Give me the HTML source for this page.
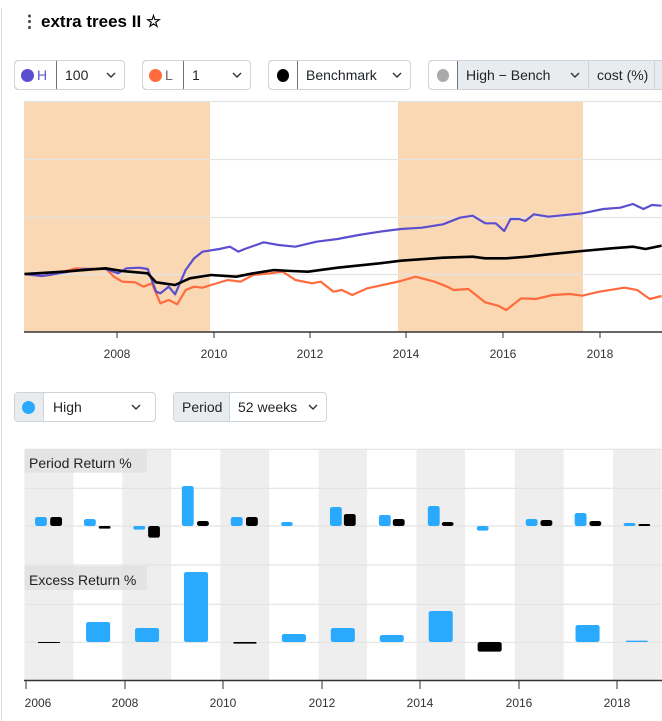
<!DOCTYPE html>
<html><head><meta charset="utf-8"><style>
*{box-sizing:border-box}
body{margin:0;width:662px;height:721px;overflow:hidden;background:#fff;font-family:"Liberation Sans",sans-serif;color:#212529;position:relative}
.a{position:absolute}
.box{position:absolute;height:30px;border:1px solid #ced4da;border-radius:4px;background:#fff;font-size:14px;display:flex;align-items:center;overflow:hidden}
.seg{height:100%;display:flex;align-items:center;padding:0 8px;white-space:nowrap}
.dot{width:13px;height:13px;border-radius:50%;display:inline-block}
.chev{display:inline-block;width:10px;height:6px}
</style></head><body>
<div class="a" style="left:1px;top:8px;width:1px;height:713px;background:#ddd"></div>
<div class="a" style="left:21px;top:12px;font-size:17px;font-weight:bold;color:#333">⋮</div>
<div class="a" style="left:41px;top:12px;font-size:17px;font-weight:bold;color:#000">extra trees II ☆</div>

<div class="box" style="left:14px;top:60px;width:111px">
 <div class="seg" style="width:43px;border:1px solid #6c757d;border-radius:4px 0 0 4px;margin:-1px 0 -1px -1px;height:30px;padding:0 6px;color:#5a5ad0"><span class="dot" style="background:#5b4fcf;margin-right:3px"></span>H</div>
 <div class="seg" style="flex:1;justify-content:space-between">100<svg class="chev" viewBox="0 0 10 6"><polyline points="1,1 5,5 9,1" fill="none" stroke="#333" stroke-width="1.4"/></svg></div>
</div>
<div class="box" style="left:142px;top:60px;width:109px">
 <div class="seg" style="width:42px;border:1px solid #6c757d;border-radius:4px 0 0 4px;margin:-1px 0 -1px -1px;height:30px;padding:0 6px;color:#666"><span class="dot" style="background:#ff6b3d;margin-right:3px"></span>L</div>
 <div class="seg" style="flex:1;justify-content:space-between">1<svg class="chev" viewBox="0 0 10 6"><polyline points="1,1 5,5 9,1" fill="none" stroke="#333" stroke-width="1.4"/></svg></div>
</div>
<div class="box" style="left:268px;top:60px;width:143px">
 <div class="seg" style="width:30px;border:1px solid #6c757d;border-radius:4px 0 0 4px;margin:-1px 0 -1px -1px;height:30px;padding:0 8px"><span class="dot" style="background:#000"></span></div>
 <div class="seg" style="flex:1;justify-content:space-between">Benchmark<svg class="chev" viewBox="0 0 10 6"><polyline points="1,1 5,5 9,1" fill="none" stroke="#333" stroke-width="1.4"/></svg></div>
</div>
<div class="box" style="left:428px;top:60px;width:250px;background:#e9ecef">
 <div class="seg" style="width:30px;background:#fff;border:1px solid #6c757d;border-radius:4px 0 0 4px;margin:-1px 0 -1px -1px;height:30px;padding:0 8px"><span class="dot" style="background:#aaa"></span></div>
 <div class="seg" style="width:130px;justify-content:space-between;padding:0 8px">High − Bench<svg class="chev" viewBox="0 0 10 6"><polyline points="1,1 5,5 9,1" fill="none" stroke="#333" stroke-width="1.4"/></svg></div>
 <div class="seg" style="width:66px;border-left:1px solid #ced4da">cost (%)</div>
 <div class="seg" style="border-left:1px solid #ced4da"></div>
</div>

<svg class="a" style="left:0;top:0" width="662" height="380">
 <rect x="24" y="101" width="186" height="231" fill="#fad8b4"/>
 <rect x="398" y="101" width="185" height="231" fill="#fad8b4"/>
 <g stroke="#e3e3e3" stroke-width="1.2">
  <line x1="24" x2="662" y1="101.5" y2="101.5"/><line x1="24" x2="662" y1="159.5" y2="159.5"/>
  <line x1="24" x2="662" y1="217.5" y2="217.5"/><line x1="24" x2="662" y1="274.5" y2="274.5"/>
 </g>
 <g transform="translate(0,95) scale(0.42194,0.33333)" fill="none" stroke-width="2.2" stroke-linejoin="round">
  <polyline vector-effect="non-scaling-stroke" stroke="#ff6b3d" points="58,537 90,542 120,540 150,530 180,520 210,522 250,520 270,545 290,560 320,562 340,575 360,565 380,625 400,615 420,628 440,585 460,575 480,578 500,570 540,555 570,560 600,540 640,535 670,530 700,555 740,565 760,560 790,590 810,585 835,600 870,580 900,572 950,558 985,545 1030,560 1060,575 1075,585 1110,582 1150,622 1180,632 1200,645 1215,630 1235,610 1270,612 1310,600 1350,597 1380,602 1420,590 1480,578 1510,585 1540,612 1568,603"/>
  <polyline vector-effect="non-scaling-stroke" stroke="#5b4fcf" points="58,537 100,543 140,535 200,522 250,522 280,535 300,520 330,518 350,522 370,590 380,595 400,575 415,598 440,525 460,490 480,470 520,462 545,455 565,470 580,462 625,442 660,450 700,455 750,440 800,432 850,420 900,410 950,402 1000,398 1050,388 1090,368 1120,362 1150,385 1175,385 1195,408 1210,372 1230,372 1245,378 1265,358 1300,365 1380,355 1430,342 1470,338 1500,327 1525,342 1545,330 1568,332"/>
  <polyline vector-effect="non-scaling-stroke" stroke="#000" stroke-width="2.6" points="58,537 150,530 250,520 290,528 350,535 370,562 415,570 450,550 500,540 560,545 600,535 650,525 690,528 730,530 800,518 900,505 950,497 1050,488 1120,485 1150,490 1200,490 1250,485 1300,478 1380,468 1450,460 1500,455 1530,462 1568,452"/>
 </g>
 <line x1="24" x2="662" y1="332" y2="332" stroke="#333" stroke-width="1.5"/>
 <g stroke="#333"><line x1="117" x2="117" y1="332" y2="338"/><line x1="214" x2="214" y1="332" y2="338"/><line x1="310" x2="310" y1="332" y2="338"/><line x1="406" x2="406" y1="332" y2="338"/><line x1="503" x2="503" y1="332" y2="338"/><line x1="600" x2="600" y1="332" y2="338"/></g>
 <g font-size="12" fill="#333" text-anchor="middle"><text x="117" y="358">2008</text><text x="214" y="358">2010</text><text x="310" y="358">2012</text><text x="406" y="358">2014</text><text x="503" y="358">2016</text><text x="600" y="358">2018</text></g>
</svg>

<div class="box" style="left:14px;top:392px;width:142px">
 <div class="seg" style="width:29px;background:#e9ecef;border-right:1px solid #ced4da;padding:0 7px"><span class="dot" style="background:#2aaaff"></span></div>
 <div class="seg" style="flex:1;justify-content:space-between;padding:0 14px 0 9px">High<svg class="chev" viewBox="0 0 10 6"><polyline points="1,1 5,5 9,1" fill="none" stroke="#333" stroke-width="1.4"/></svg></div>
</div>
<div class="box" style="left:173px;top:392px;width:154px">
 <div class="seg" style="width:56px;background:#e9ecef;border-right:1px solid #ced4da">Period</div>
 <div class="seg" style="flex:1;justify-content:space-between">52 weeks<svg class="chev" viewBox="0 0 10 6"><polyline points="1,1 5,5 9,1" fill="none" stroke="#333" stroke-width="1.4"/></svg></div>
</div>

<svg class="a" style="left:0;top:380px" width="662" height="341">
 <g transform="scale(0.42194,0.33333)">
  <g fill="#eeeeee">
   <rect x="58" y="208" width="116" height="692"/><rect x="290" y="208" width="116" height="692"/><rect x="522" y="208" width="116" height="692"/><rect x="755" y="208" width="115" height="692"/><rect x="987" y="208" width="115" height="692"/><rect x="1220" y="208" width="116" height="692"/><rect x="1453" y="208" width="115" height="692"/>
  </g>
  <g stroke="#e3e3e3" stroke-width="3.5">
   <line x1="58" x2="1568" y1="208" y2="208"/><line x1="58" x2="1568" y1="325" y2="325"/><line x1="58" x2="1568" y1="438" y2="438"/><line x1="58" x2="1568" y1="555" y2="555"/><line x1="58" x2="1568" y1="673" y2="673"/><line x1="58" x2="1568" y1="787" y2="787"/>
  </g>
  <rect x="58" y="208" width="290" height="70" fill="#e0e0e0" opacity="0.85"/>
  <rect x="58" y="558" width="290" height="72" fill="#e0e0e0" opacity="0.85"/>
  <g fill="#2aaaff">
   <rect x="83" y="411" width="28" height="27" rx="6"/><rect x="199" y="417" width="28" height="21" rx="6"/><rect x="316" y="438" width="28" height="11" rx="5"/><rect x="431" y="318" width="28" height="120" rx="6"/><rect x="547" y="411" width="28" height="27" rx="6"/><rect x="666" y="426" width="28" height="12" rx="6"/><rect x="782" y="381" width="28" height="57" rx="6"/><rect x="898" y="405" width="28" height="33" rx="6"/><rect x="1014" y="378" width="28" height="60" rx="6"/><rect x="1130" y="438" width="28" height="14" rx="6"/><rect x="1246" y="417" width="28" height="21" rx="6"/><rect x="1362" y="399" width="28" height="39" rx="6"/><rect x="1478" y="429" width="28" height="9" rx="5"/>
   <rect x="204" y="726" width="57" height="60" rx="6"/><rect x="320" y="744" width="57" height="42" rx="6"/><rect x="436" y="576" width="57" height="210" rx="6"/><rect x="668" y="762" width="57" height="24" rx="6"/><rect x="784" y="744" width="57" height="42" rx="6"/><rect x="900" y="765" width="57" height="21" rx="6"/><rect x="1016" y="693" width="57" height="93" rx="6"/><rect x="1364" y="735" width="57" height="51" rx="6"/><rect x="1484" y="782" width="51" height="4"/>
  </g>
  <g fill="#000">
   <rect x="119" y="411" width="28" height="27" rx="6"/><rect x="234" y="438" width="28" height="8" rx="4"/><rect x="351" y="438" width="28" height="35" rx="6"/><rect x="467" y="423" width="28" height="15" rx="6"/><rect x="583" y="411" width="28" height="27" rx="6"/><rect x="815" y="402" width="28" height="36" rx="6"/><rect x="931" y="417" width="28" height="21" rx="6"/><rect x="1047" y="426" width="28" height="12" rx="6"/><rect x="1281" y="420" width="28" height="18" rx="6"/><rect x="1397" y="423" width="28" height="15" rx="6"/><rect x="1513" y="432" width="28" height="6" rx="3"/>
   <rect x="90" y="786" width="52" height="3"/><rect x="553" y="786" width="55" height="5" rx="2"/><rect x="1132" y="786" width="57" height="29" rx="6"/>
  </g>
 </g>
 <text x="29" y="88" font-size="14" fill="#222">Period Return %</text>
 <text x="29" y="205" font-size="14" fill="#222">Excess Return %</text>
 <line x1="24" x2="662" y1="300.5" y2="300.5" stroke="#333" stroke-width="1.5"/>
 <g stroke="#333"><line x1="26" x2="26" y1="300" y2="309"/><line x1="125" x2="125" y1="300" y2="309"/><line x1="223" x2="223" y1="300" y2="309"/><line x1="322" x2="322" y1="300" y2="309"/><line x1="420" x2="420" y1="300" y2="309"/><line x1="519" x2="519" y1="300" y2="309"/><line x1="617" x2="617" y1="300" y2="309"/></g>
 <g font-size="12" fill="#333" text-anchor="middle"><text x="38" y="327">2006</text><text x="125" y="327">2008</text><text x="223" y="327">2010</text><text x="322" y="327">2012</text><text x="420" y="327">2014</text><text x="519" y="327">2016</text><text x="617" y="327">2018</text></g>
</svg>
</body></html>
